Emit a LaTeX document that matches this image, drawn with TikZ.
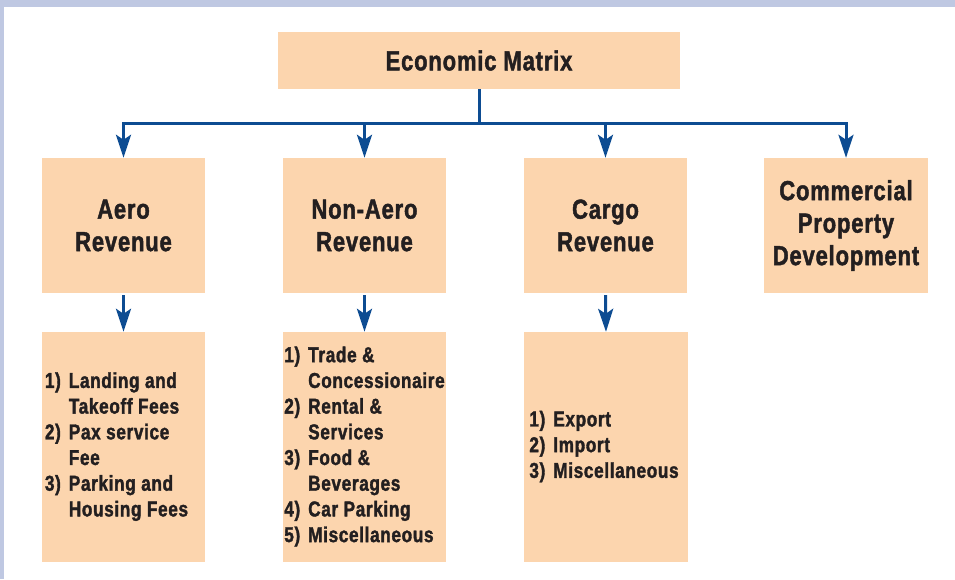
\documentclass[tikz,border=0pt]{standalone}
\usepackage{fontspec}
\setmainfont[FakeStretch=0.8,FakeBold=1.6,LetterSpace=3]{Liberation Sans}
\usetikzlibrary{arrows.meta}
\definecolor{peach}{HTML}{FCD5AE}
\definecolor{flow}{HTML}{0D4C92}
\definecolor{framecol}{HTML}{BFC8E2}
\definecolor{ink}{HTML}{231F20}
\newcommand{\itemlist}[1]{\begin{tabular}{@{}r@{\hspace{8pt}}l@{}}#1\end{tabular}}
\begin{document}
\begin{tikzpicture}[x=1pt,y=-1pt,
  box/.style={fill=peach, inner sep=0pt, text=ink, align=center,
    font=\bfseries\fontsize{27.5}{32.5}\selectfont},
  topbox/.style={box, minimum width=402pt, minimum height=57pt},
  headbox/.style={box, minimum width=163pt, minimum height=135pt},
  listbox/.style={box, minimum width=163pt, minimum height=230pt,
    font=\bfseries\fontsize{21.5}{25.7}\selectfont},
  link/.style={draw=flow, line width=3pt},
  arr/.style={link, -{Stealth[length=23pt,width=15pt,inset=5pt]}}]

% page and frame bands
\useasboundingbox (0,0) rectangle (955,579);
\fill[white] (0,0) rectangle (955,579);
\fill[framecol] (0,0) rectangle (955,7);
\fill[framecol] (0,0) rectangle (4,579);

% top of the hierarchy
\node[topbox] (em) at (479,60.5) {Economic Matrix};

% revenue heads
\node[headbox] (aero)  at (123.5,225.5) {Aero\\Revenue};
\node[headbox] (naero) at (364.5,225.5) {Non-Aero\\Revenue};
\node[headbox] (cargo) at (605.5,225.5) {Cargo\\Revenue};
\node[headbox, minimum width=164pt] (cpd) at (846,225.5) {Commercial\\Property\\Development};

% detail lists
\node[listbox] (aerolist) at (123.5,447) {\itemlist{%
  1) & Landing and\\ & Takeoff Fees\\
  2) & Pax service\\ & Fee\\
  3) & Parking and\\ & Housing Fees}\hspace*{14pt}};
\node[listbox] (naerolist) at (364.5,447) {\itemlist{%
  1) & Trade \&\\ & Concessionaire\\
  2) & Rental \&\\ & Services\\
  3) & Food \&\\ & Beverages\\
  4) & Car Parking\\
  5) & Miscellaneous}};
\node[listbox, minimum width=164pt] (cargolist) at (606,447) {\itemlist{%
  1) & Export\\
  2) & Import\\
  3) & Miscellaneous}\hspace*{4pt}};

% distribution bus
\coordinate (bus) at (479,123);
\draw[link] (em.south) -- (bus);
\draw[arr] (bus) -| (aero.north);
\draw[arr] (bus) -| (naero.north);
\draw[arr] (bus) -| (cargo.north);
\draw[arr] (bus) -| (cpd.north);

% heads to their lists
\draw[arr] ([yshift=-2pt]aero.south)  -- (aerolist.north);
\draw[arr] ([yshift=-2pt]naero.south) -- (naerolist.north);
\draw[arr] ([yshift=-2pt]cargo.south) -- (cargolist.north);
\end{tikzpicture}
\end{document}
